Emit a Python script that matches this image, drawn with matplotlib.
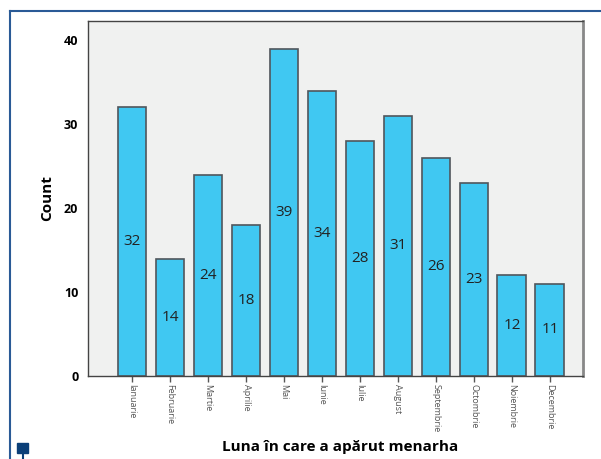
import matplotlib.pyplot as plt
from matplotlib.lines import Line2D
from matplotlib.patches import Rectangle

plt.rcParams['font.family'] = ['Open Sans', 'DejaVu Sans']

# ------------------------------
# Data
# ------------------------------

months = ["Ianuarie", "Februarie", "Martie", "Aprilie", "Mai", "Iunie",
          "Iulie", "August", "Septembrie", "Octombrie", "Noiembrie", "Decembrie"]
counts = [32, 14, 24, 18, 39, 34, 28, 31, 26, 23, 12, 11]

# ------------------------------
# Plot
# ------------------------------

fig = plt.figure(figsize=(6.01, 4.59), dpi=100)
ax = fig.add_axes([0.1464, 0.1808, 0.8236, 0.7734])
ax.set_facecolor("#f0f1f0")

x = list(range(len(months)))
ax.bar(x, counts, width=0.76, color="#40c8f2", edgecolor="#50565c", linewidth=1.2)

for xi, c in zip(x, counts):
    ax.text(xi, c / 2, str(c), ha="center", va="center", fontsize=11, color="#222222")

ax.set_xlim(-1.16, 11.87)
ax.set_ylim(0, 42.3)
ax.set_yticks([0, 10, 20, 30, 40])
ax.set_yticklabels(["0", "10", "20", "30", "40"], fontweight="bold", fontsize=9)
ax.tick_params(axis="y", length=0, pad=7)

ax.set_xticks(x)
ax.set_xticklabels(months, rotation=-90, fontsize=6.5, color="#555555")
ax.tick_params(axis="x", length=4, width=1, color="#555555", pad=2)

for s in ["top", "left", "bottom"]:
    ax.spines[s].set_color("#444444")
    ax.spines[s].set_linewidth(1.0)
ax.spines["right"].set_color("#888888")
ax.spines["right"].set_linewidth(2.0)

ax.set_ylabel("Count", fontweight="bold", fontsize=11, labelpad=7)
fig.text(0.566, 1 - 447 / 459, "Luna în care a apărut menarha", ha="center", va="center",
         fontweight="bold", fontsize=11)

# page frame lines and corner marker
fig.add_artist(Line2D([10 / 601, 1], [1 - 11 / 459, 1 - 11 / 459], color="#2a5a96", linewidth=1.5))
fig.add_artist(Line2D([10 / 601, 10 / 601], [0, 1 - 11 / 459], color="#2a5a96", linewidth=1.5))
fig.add_artist(Rectangle((17 / 601, 1 - 453 / 459), 11 / 601, 10 / 459,
                         transform=fig.transFigure, color="#0b3f78"))
fig.add_artist(Line2D([22.5 / 601, 22.5 / 601], [0, 1 - 453 / 459], color="#0b3f78", linewidth=1.5))

plt.savefig("out.png", dpi=100)
